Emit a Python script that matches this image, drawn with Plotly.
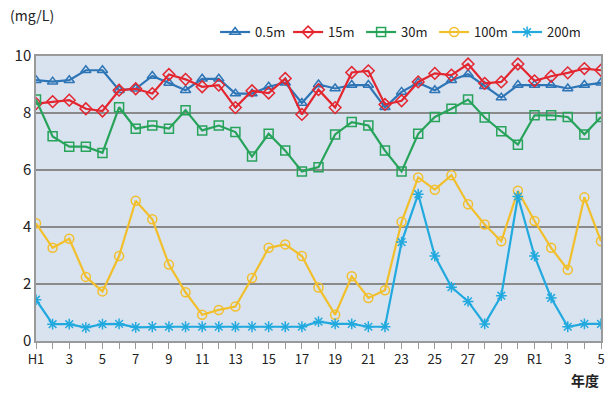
import plotly.graph_objects as go

# Fiscal years: Heisei 1-30, then Reiwa 1-5
years = [f"H{i}" for i in range(1, 31)] + [f"R{i}" for i in range(1, 6)]
tick_text = ["H1", "", "3", "", "5", "", "7", "", "9", "", "11", "", "13", "", "15", "",
             "17", "", "19", "", "21", "", "23", "", "25", "", "27", "", "29", "",
             "R1", "", "3", "", "5"]

# Dissolved oxygen (mg/L) by depth
do_05m = [9.15, 9.1, 9.15, 9.5, 9.5, 8.8, 8.85, 9.3, 9.05, 8.8,
          9.2, 9.2, 8.68, 8.68, 8.92, 9.06, 8.35, 9.0, 8.86, 8.98,
          8.98, 8.2, 8.74, 9.06, 8.8, 9.15, 9.36, 8.94, 8.54, 8.98,
          8.98, 8.98, 8.86, 8.98, 9.06]
do_15m = [8.33, 8.4, 8.45, 8.15, 8.07, 8.8, 8.85, 8.68, 9.35, 9.18,
          8.92, 8.98, 8.19, 8.78, 8.7, 9.21, 7.95, 8.82, 8.19, 9.42,
          9.48, 8.3, 8.43, 9.09, 9.39, 9.33, 9.72, 9.04, 9.09, 9.72,
          9.13, 9.29, 9.41, 9.56, 9.5]
do_30m = [8.47, 7.18, 6.82, 6.82, 6.6, 8.2, 7.45, 7.56, 7.45, 8.1,
          7.39, 7.56, 7.33, 6.47, 7.27, 6.68, 5.95, 6.1, 7.25, 7.68,
          7.56, 6.68, 5.95, 7.27, 7.86, 8.15, 8.47, 7.84, 7.36, 6.89,
          7.92, 7.92, 7.86, 7.25, 7.86]
do_100m = [4.13, 3.27, 3.59, 2.25, 1.74, 2.98, 4.92, 4.27, 2.68, 1.71,
           0.92, 1.09, 1.21, 2.21, 3.27, 3.39, 2.98, 1.88, 0.92, 2.27,
           1.51, 1.78, 4.18, 5.74, 5.31, 5.82, 4.8, 4.09, 3.5, 5.27,
           4.21, 3.27, 2.5, 5.04, 3.5]
do_200m = [1.45, 0.59, 0.59, 0.47, 0.59, 0.6, 0.48, 0.5, 0.5, 0.5,
           0.5, 0.5, 0.5, 0.5, 0.5, 0.5, 0.5, 0.68, 0.6, 0.6,
           0.5, 0.5, 3.47, 5.15, 2.98, 1.89, 1.39, 0.6, 1.59, 5.07,
           2.98, 1.51, 0.5, 0.6, 0.6]

series = [
    ("0.5m", do_05m, "#2e75b6", "triangle-up-open"),
    ("15m", do_15m, "#e3262f", "diamond-open"),
    ("30m", do_30m, "#27a35a", "square-open"),
    ("100m", do_100m, "#f2bf2c", "circle-open"),
    ("200m", do_200m, "#22a9de", "asterisk-open"),
]

x_idx = list(range(len(years)))
num_font = "Noto Sans CJK JP, sans-serif"

fig = go.Figure()
for name, vals, color, symbol in series:
    fig.add_trace(go.Scatter(
        x=x_idx, y=vals, name=name, mode="lines+markers",
        line=dict(color=color, width=2.2),
        marker=dict(symbol=symbol, size=9, color=color, line=dict(color=color, width=1.5)),
        customdata=years,
        hovertemplate="%{customdata}: %{y} mg/L<extra>" + name + "</extra>",
    ))

fig.update_layout(
    width=611, height=394,
    margin=dict(l=36, r=10, t=56, b=53, autoexpand=False),
    paper_bgcolor="white",
    plot_bgcolor="#d9e3f0",
    font=dict(family=num_font, size=14, color="#222222"),
    showlegend=True,
    legend=dict(
        orientation="h", x=0.317, y=1.084, xanchor="left", yanchor="middle",
        bgcolor="rgba(0,0,0,0)", font=dict(size=13), entrywidth=28,
        entrywidthmode="pixels", tracegroupgap=0,
    ),
    xaxis=dict(
        range=[0, 34], tickmode="array", tickvals=x_idx, ticktext=tick_text,
        ticks="outside", ticklen=6, tickcolor="#9a9a9a", tickwidth=1,
        showgrid=False, zeroline=False,
        showline=True, linecolor="#9a9a9a", linewidth=1.5, mirror=True,
        tickfont=dict(size=13),
    ),
    yaxis=dict(
        range=[0, 10], tickvals=[0, 2, 4, 6, 8, 10],
        showgrid=True, gridcolor="#8a8a8a", gridwidth=2,
        zeroline=False,
        showline=True, linecolor="#9a9a9a", linewidth=1.5, mirror=True,
        ticks="", tickfont=dict(size=15),
    ),
    annotations=[
        dict(text="(mg/L)", xref="paper", yref="paper", x=-0.05, y=1.144,
             xanchor="left", yanchor="middle", showarrow=False,
             font=dict(size=14, family=num_font)),
        dict(text="<b>年度</b>", xref="paper", yref="paper", x=0.972, y=-0.137,
             xanchor="center", yanchor="middle", showarrow=False,
             font=dict(size=14, family="Noto Sans CJK JP")),
    ],
)

fig.write_html("out.html")
